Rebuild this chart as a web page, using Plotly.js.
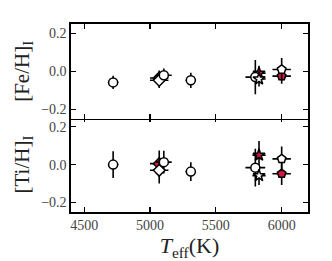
<!DOCTYPE html>
<html><head><meta charset="utf-8">
<script src="https://cdn.plot.ly/plotly-3.0.1.min.js"></script>
<style>html,body{margin:0;padding:0;background:#fff}#c{width:332px;height:261px}</style>
</head><body><div id="c"></div>
<script>
// open (white) markers
const teffOpen = [4720, 5070, 5105, 5310, 5800, 5828, 6000];
const teffOpenErr = [40, 70, 60, 40, 75, 50, 70];
const symOpen = ['circle', 'diamond', 'circle', 'circle', 'circle', 'star', 'pentagon'];
const feOpen = [-0.058, -0.047, -0.02, -0.047, -0.03, -0.04, 0.01];
const feOpenErr = [0.035, 0.04, 0.035, 0.04, 0.09, 0.04, 0.06];
const tiOpen = [0.0, -0.03, 0.013, -0.037, -0.016, -0.058, 0.03];
const tiOpenErr = [0.07, 0.07, 0.06, 0.05, 0.1, 0.05, 0.065];
// red (filled) markers
const teffRed = [5070, 5828, 6000];
const teffRedErr = [70, 50, 70];
const symRed = ['diamond', 'star', 'pentagon'];
const feRed = [-0.035, -0.01, -0.025];
const feRedErr = [0.04, 0.04, 0.04];
const tiRed = [0.005, 0.05, -0.048];
const tiRedErr = [0.07, 0.075, 0.06];

const red = '#d8173f';
function tr(x, xe, y, ye, sym, fill, xa, ya) {
  return {x: x, y: y, type: 'scatter', mode: 'markers', xaxis: xa, yaxis: ya,
    error_x: {type: 'data', array: xe, visible: true, color: '#000', thickness: 1.6, width: 0},
    error_y: {type: 'data', array: ye, visible: true, color: '#000', thickness: 1.6, width: 0},
    marker: {symbol: sym, color: fill, size: 9, line: {color: '#000', width: 1.5}},
    showlegend: false, hoverinfo: 'skip'};
}
const data = [
  tr(teffRed, teffRedErr, feRed, feRedErr, symRed, red, 'x2', 'y'),
  tr(teffOpen, teffOpenErr, feOpen, feOpenErr, symOpen, '#fff', 'x2', 'y'),
  tr(teffRed, teffRedErr, tiRed, tiRedErr, symRed, red, 'x', 'y2'),
  tr(teffOpen, teffOpenErr, tiOpen, tiOpenErr, symOpen, '#fff', 'x', 'y2')
];
const fam = 'Liberation Serif, DejaVu Serif, serif';
const font = {family: fam, size: 14, color: '#444'};
const axBase = {showline: true, linecolor: '#000', linewidth: 1.6, mirror: 'ticks',
  ticks: 'inside', ticklen: 5, tickwidth: 1.2, tickcolor: '#000', showgrid: false, zeroline: false};
const yTicks = {tickvals: [-0.2, 0, 0.2], ticktext: ['\u22120.2', '0.0', '0.2'], range: [-0.25, 0.25]};
const layout = {
  width: 332, height: 261,
  margin: {l: 71, r: 24, t: 24, b: 49},
  paper_bgcolor: '#fff', plot_bgcolor: '#fff',
  font: font,
  xaxis: Object.assign({}, axBase, {anchor: 'y2', range: [4400, 6200], tickvals: [4500, 5000, 5500, 6000],
    title: {text: '<i>T</i><sub>eff</sub>(K)', font: {family: fam, size: 22, color: '#222'}, standoff: 0}}),
  xaxis2: Object.assign({}, axBase, {anchor: 'y', matches: 'x', range: [4400, 6200], tickvals: [4500, 5000, 5500, 6000], showticklabels: false}),
  yaxis: Object.assign({}, axBase, yTicks, {domain: [0.4958, 1], anchor: 'x2',
    title: {text: '[Fe/H]<sub>I</sub>', font: {family: fam, size: 21, color: '#222'}, standoff: 6}}),
  yaxis2: Object.assign({}, axBase, yTicks, {domain: [0, 0.5042], anchor: 'x',
    title: {text: '[Ti/H]<sub>I</sub>', font: {family: fam, size: 21, color: '#222'}, standoff: 6}})
};
Plotly.newPlot('c', data, layout, {staticPlot: true, displayModeBar: false});
</script></body></html>
